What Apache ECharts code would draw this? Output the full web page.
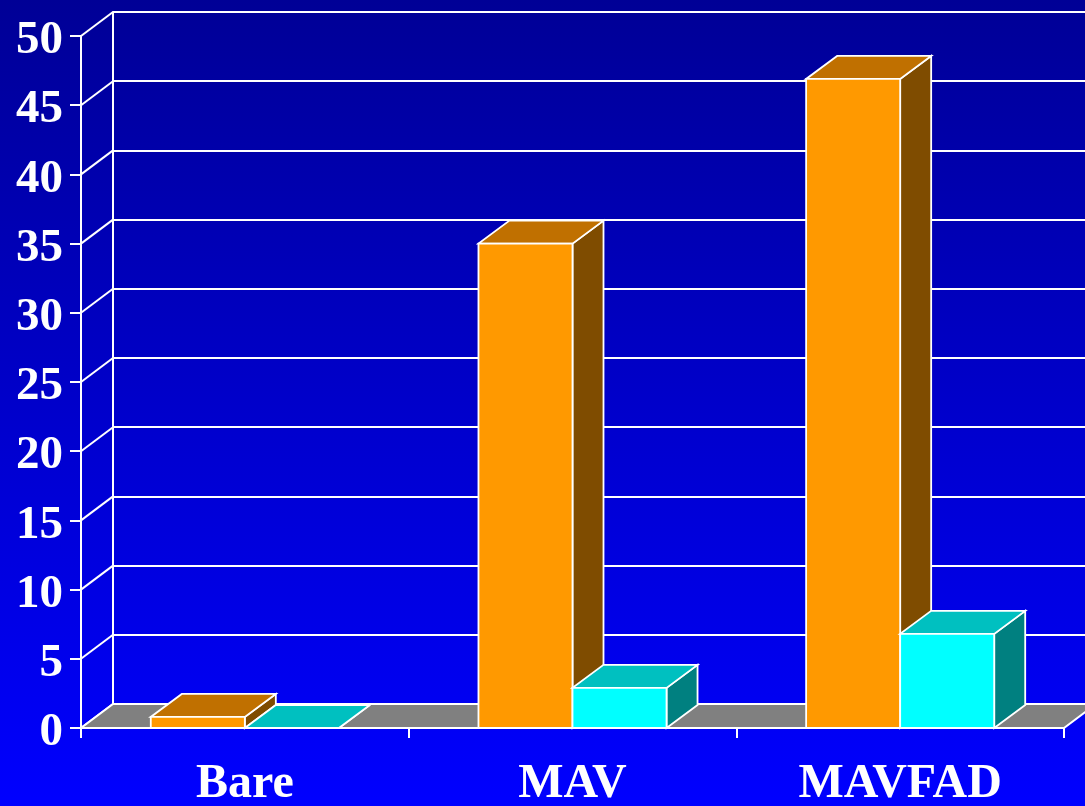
<!DOCTYPE html>
<html>
<head>
<meta charset="utf-8">
<script src="https://cdn.jsdelivr.net/npm/echarts@6/dist/echarts.min.js"></script>
<style>
  html, body { margin: 0; padding: 0; background: #0000ff; }
  #chart { width: 1085px; height: 806px; }
</style>
</head>
<body>
<div id="chart"></div>
<script>
// Chart data
const categories = ['Bare', 'MAV', 'MAVFAD'];
const orangeValues = [0.8, 35.0, 46.9];
const cyanValues = [0, 2.9, 6.8];
const yTicks = [0, 5, 10, 15, 20, 25, 30, 35, 40, 45, 50];

// 3D look: depth offsets of the back wall and of the columns
const WALL_DX = 32, WALL_DY = 24;
const BAR_DX = 31, BAR_DY = 23;
const BAR_FRAC = 0.287;

const FONT = '"Liberation Serif", "Times New Roman", serif';

const orangeColors = { front: '#ff9900', top: '#c07000', side: '#7f4c00' };
const cyanColors = { front: '#00ffff', top: '#00c0c0', side: '#008080' };

const edge = { stroke: '#ffffff', lineWidth: 1.8, lineJoin: 'miter' };

function barRenderer(colors, side) {
  return function (params, api) {
    const idx = api.value(0);
    const v = api.value(1);
    const base = api.coord([idx, 0]);
    const top = api.coord([idx, v]);
    const w = api.size([1, 0])[0] * BAR_FRAC;
    const x0 = side < 0 ? base[0] - w : base[0];
    const x1 = x0 + w;
    const yb = base[1], yt = top[1];
    return {
      type: 'group',
      children: [
        { type: 'polygon',
          shape: { points: [[x1, yb], [x1 + BAR_DX, yb - BAR_DY], [x1 + BAR_DX, yt - BAR_DY], [x1, yt]] },
          style: Object.assign({ fill: colors.side }, edge) },
        { type: 'polygon',
          shape: { points: [[x0, yt], [x1, yt], [x1 + BAR_DX, yt - BAR_DY], [x0 + BAR_DX, yt - BAR_DY]] },
          style: Object.assign({ fill: colors.top }, edge) },
        { type: 'rect',
          shape: { x: x0, y: yt, width: w, height: yb - yt },
          style: Object.assign({ fill: colors.front }, edge) }
      ]
    };
  };
}

// Side-wall connectors from the front value axis to the back wall
function connectorRenderer(params, api) {
  const p = api.coord([0, api.value(1)]);
  const x = params.coordSys.x;
  return {
    type: 'line',
    shape: { x1: x, y1: p[1], x2: x + WALL_DX, y2: p[1] - WALL_DY },
    style: { stroke: '#ffffff', lineWidth: 2 }
  };
}

// Grey floor
function floorRenderer(params, api) {
  const cs = params.coordSys;
  const y0 = api.coord([0, 0])[1];
  const xl = cs.x, xr = cs.x + cs.width;
  return {
    type: 'polygon',
    shape: { points: [[xl, y0], [xr, y0], [xr + WALL_DX, y0 - WALL_DY], [xl + WALL_DX, y0 - WALL_DY]] },
    style: { fill: '#808080', stroke: '#ffffff', lineWidth: 2 }
  };
}

const chart = echarts.init(document.getElementById('chart'), null, { renderer: 'canvas' });

chart.setOption({
  animation: false,
  backgroundColor: {
    type: 'linear', x: 0, y: 0, x2: 0, y2: 1,
    colorStops: [
      { offset: 0, color: '#000096' },
      { offset: 1, color: '#0000ff' }
    ]
  },
  grid: [
    { left: 81, right: 21, top: 36, bottom: 78, containLabel: false, outerBoundsMode: 'none' },
    { left: 81 + WALL_DX, top: 36 - WALL_DY, width: 983, height: 692, containLabel: false, outerBoundsMode: 'none' }
  ],
  xAxis: [
    {
      type: 'category', gridIndex: 0, data: categories,
      boundaryGap: true,
      axisLine: { show: true, lineStyle: { color: '#ffffff', width: 2 } },
      axisTick: { show: true, alignWithLabel: false, length: 10, lineStyle: { color: '#ffffff', width: 2 } },
      axisLabel: { color: '#ffffff', fontFamily: FONT, fontWeight: 'bold', fontSize: 48, margin: 33 },
      splitLine: { show: false }
    },
    {
      type: 'category', gridIndex: 1, data: categories,
      show: false
    }
  ],
  yAxis: [
    {
      type: 'value', gridIndex: 0, min: 0, max: 50, interval: 5,
      axisLine: { show: true, lineStyle: { color: '#ffffff', width: 2 } },
      axisTick: { show: true, length: 11, lineStyle: { color: '#ffffff', width: 2 } },
      axisLabel: {
        color: '#ffffff', fontFamily: FONT, fontWeight: 'bold', fontSize: 47, margin: 18,
        formatter: function (v) { return yTicks.indexOf(v) >= 0 ? '{n|' + v + '}' : ''; },
        rich: {
          n: { color: '#ffffff', fontFamily: FONT, fontWeight: 'bold', fontSize: 47, padding: [10, 0, 0, 0] }
        }
      },
      splitLine: { show: false }
    },
    {
      type: 'value', gridIndex: 1, min: 0, max: 50, interval: 5,
      axisLine: { show: true, lineStyle: { color: '#ffffff', width: 2 } },
      axisTick: { show: false },
      axisLabel: { show: false },
      splitLine: { show: true, lineStyle: { color: '#ffffff', width: 2 } }
    }
  ],
  series: [
    {
      type: 'custom', name: 'connectors', xAxisIndex: 0, yAxisIndex: 0, z: 2,
      renderItem: connectorRenderer,
      data: yTicks.map(function (v) { return [0, v]; }),
      silent: true
    },
    {
      type: 'custom', name: 'floor', xAxisIndex: 0, yAxisIndex: 0, z: 3,
      renderItem: floorRenderer,
      data: [[0, 0]],
      silent: true
    },
    {
      type: 'custom', name: 'Orange', xAxisIndex: 0, yAxisIndex: 0, z: 4,
      renderItem: barRenderer(orangeColors, -1),
      encode: { x: 0, y: 1 },
      data: orangeValues.map(function (v, i) { return [i, v]; })
    },
    {
      type: 'custom', name: 'Cyan', xAxisIndex: 0, yAxisIndex: 0, z: 5,
      renderItem: barRenderer(cyanColors, 1),
      encode: { x: 0, y: 1 },
      data: cyanValues.map(function (v, i) { return [i, v]; })
    }
  ]
});
</script>
</body>
</html>
